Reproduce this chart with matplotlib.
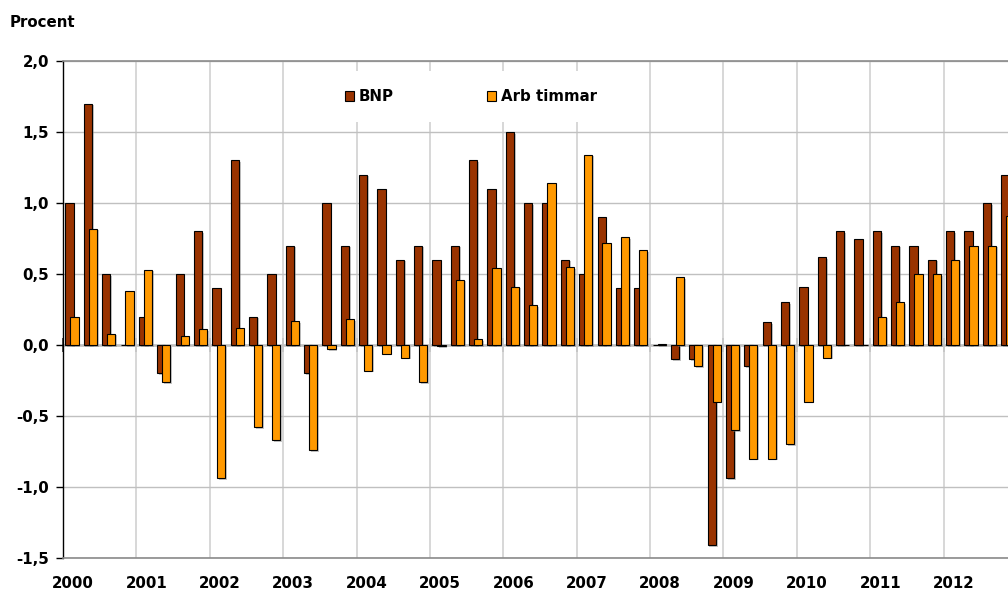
import matplotlib
matplotlib.use("Agg")
import matplotlib.pyplot as plt
import matplotlib.patheffects as pe
from matplotlib.transforms import ScaledTranslation
import numpy as np

years = [str(y) for y in range(2000, 2013)]

# quarterly change, percent, 2000Q1 .. 2012Q4
bnp = [1.0, 1.7, 0.5, 0.0,
       0.2, -0.2, 0.5, 0.8,
       0.4, 1.3, 0.2, 0.5,
       0.7, -0.2, 1.0, 0.7,
       1.2, 1.1, 0.6, 0.7,
       0.6, 0.7, 1.3, 1.1,
       1.5, 1.0, 1.0, 0.6,
       0.5, 0.9, 0.4, 0.4,
       0.0, -0.1, -0.1, -1.41,
       -0.94, -0.15, 0.16, 0.3,
       0.41, 0.62, 0.8, 0.75,
       0.8, 0.7, 0.7, 0.6,
       0.8, 0.8, 1.0, 1.2]

arb_timmar = [0.2, 0.82, 0.08, 0.38,
              0.53, -0.26, 0.06, 0.11,
              -0.94, 0.12, -0.58, -0.67,
              0.17, -0.74, -0.03, 0.18,
              -0.18, -0.06, -0.09, -0.26,
              -0.01, 0.46, 0.04, 0.54,
              0.41, 0.28, 1.14, 0.55,
              1.34, 0.72, 0.76, 0.67,
              0.01, 0.48, -0.15, -0.4,
              -0.6, -0.8, -0.8, -0.7,
              -0.4, -0.09, 0.0, 0.0,
              0.2, 0.3, 0.5, 0.5,
              0.6, 0.7, 0.7, 0.91]

plt.rcParams['font.family'] = ['DejaVu Sans']
plt.rcParams['font.weight'] = 'bold'
fs = 10.8

fig = plt.figure(figsize=(10.08, 5.90), dpi=100)
# axes run a bit past the right edge, like the cropped original
ax = fig.add_axes([63/1008, 32/590, 954/1008, 497/590])

q = np.arange(len(bnp)) + 0.5
w = 0.45
shadow = [pe.SimplePatchShadow(offset=(1.2, -1.2), shadow_rgbFace='#808080', alpha=0.45), pe.Normal()]
b1 = ax.bar(q - 0.14, bnp, w, color='#993300', edgecolor='black', linewidth=0.8, label='BNP', zorder=3)
b2 = ax.bar(q + 0.13, arb_timmar, w, color='#FF9900', edgecolor='black', linewidth=0.8, label='Arb timmar', zorder=3)
for p in list(b1) + list(b2):
    p.set_path_effects(shadow)

ymin, ymax = -1.5, 2.0
ax.set_ylim(ymin, ymax)
ax.set_xlim(0, len(bnp))
yt = np.arange(-1.5, 2.01, 0.5)
ax.set_yticks(yt, [f"{v:.1f}".replace('.', ',') for v in yt])
year_pos = np.arange(0, len(bnp) + 1, 4)
ax.set_xticks(year_pos[:-1], years)

ax.set_axisbelow(True)
ax.grid(axis='y', color='#c0c0c0', linewidth=1.0)
ax.grid(axis='x', color='#d4d4d4', linewidth=1.3)

for s in ['top', 'bottom']:
    ax.spines[s].set_color('#8a8a8a')
    ax.spines[s].set_linewidth(1.2)
ax.spines['right'].set_visible(False)
ax.spines['left'].set_color('black')
ax.spines['left'].set_linewidth(1.0)

ax.tick_params(axis='y', length=5, width=1, direction='out', pad=5.0, labelsize=fs, colors='black')
ax.tick_params(axis='x', length=0, pad=13.0, labelsize=fs)
for lab in ax.get_xticklabels():
    lab.set_transform(lab.get_transform() + ScaledTranslation(0.10, 0, fig.dpi_scale_trans))

# zero line with crossing ticks at year boundaries
zero = ax.secondary_xaxis((0 - ymin) / (ymax - ymin))
zero.set_xticks(year_pos, [''] * len(year_pos))
zero.spines['bottom'].set_color('black')
zero.spines['bottom'].set_linewidth(1.0)
zero.tick_params(direction='inout', length=10, width=1.2, color='#333333')

leg = ax.legend(loc='center', bbox_to_anchor=(0.4277, 0.9276), ncol=2, fontsize=fs,
                frameon=True, facecolor='white', edgecolor='none', framealpha=1,
                handlelength=0.62, handleheight=0.62, handletextpad=0.34,
                columnspacing=6.2, borderpad=1.2)
for h in leg.legend_handles:
    h.set_path_effects([])

fig.text(10/1008, 1 - 27/590, 'Procent', fontsize=fs, fontweight='bold', ha='left', va='baseline')

fig.savefig('out.png', dpi=100)
